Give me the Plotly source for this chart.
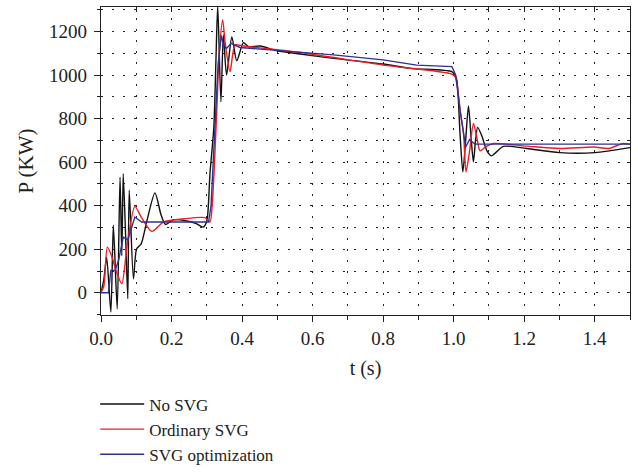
import plotly.graph_objects as go

# ---- data ----
t_no = [0, 0.008, 0.016, 0.028, 0.035, 0.046, 0.054, 0.059, 0.063, 0.07, 0.076, 0.08, 0.092, 0.101,
        0.114, 0.13, 0.153, 0.17, 0.183, 0.205, 0.243, 0.27, 0.29, 0.3, 0.309, 0.32, 0.326, 0.331,
        0.34, 0.347, 0.356, 0.371, 0.385, 0.404, 0.418, 0.451, 0.5, 0.565, 0.659, 0.8, 0.877, 0.995,
        1.003, 1.009, 1.018, 1.026, 1.034, 1.042, 1.05, 1.056, 1.062, 1.068, 1.08, 1.095, 1.108,
        1.12, 1.141, 1.207, 1.3, 1.4, 1.5]
p_no = [0, 60, 164, -89, 310, -74, 532, 170, 547, 250, -27, 471, 64, 202,
        225, 330, 459, 360, 314, 335, 330, 318, 302, 330, 548, 762, 1074, 1320,
        878, 1185, 1000, 1175, 1066, 1149, 1131, 1134, 1112, 1097, 1077, 1051, 1031, 1016,
        1000, 977, 732, 555, 700, 858, 700, 601, 700, 760, 720, 650, 629,
        645, 673, 663, 644, 644, 667]

t_ord = [0, 0.008, 0.018, 0.03, 0.045, 0.059, 0.075, 0.096, 0.115, 0.144, 0.177, 0.234, 0.295,
         0.309, 0.316, 0.326, 0.336, 0.345, 0.352, 0.366, 0.38, 0.4, 0.45, 0.565, 0.8, 0.995,
         1.005, 1.02, 1.028, 1.035, 1.045, 1.056, 1.065, 1.075, 1.09, 1.113, 1.207, 1.302, 1.397,
         1.44, 1.48, 1.5]
p_ord = [0, 30, 210, 170, 90, 41, 230, 397, 345, 282, 325, 340, 345,
         325, 420, 750, 1120, 1254, 1150, 1016, 1139, 1135, 1125, 1104, 1046, 1005,
         990, 820, 732, 555, 650, 778, 720, 652, 670, 686, 674, 663, 670,
         663, 686, 683]

t_opt = [0, 0.021, 0.028, 0.04, 0.05, 0.063, 0.076, 0.096, 0.115, 0.2, 0.305, 0.312, 0.322, 0.332,
         0.341, 0.347, 0.356, 0.369, 0.394, 0.47, 0.603, 0.659, 0.8, 0.895, 0.995, 1.006, 1.018,
         1.034, 1.045, 1.06, 1.1, 1.3, 1.5]
p_opt = [0, 0, 103, 103, 150, 256, 243, 348, 325, 325, 325, 400, 700, 1050,
         1182, 1140, 1123, 1146, 1127, 1117, 1103, 1093, 1070, 1046, 1039, 1000, 839,
         670, 704, 683, 683, 683, 683]

series_names = ["No SVG", "Ordinary SVG", "SVG optimization"]
series_colors = ["#111111", "#ee1c24", "#2e3192"]

x_ticks = [0.0, 0.2, 0.4, 0.6, 0.8, 1.0, 1.2, 1.4]
x_ticklabels = ["0.0", "0.2", "0.4", "0.6", "0.8", "1.0", "1.2", "1.4"]
y_ticks = [0, 200, 400, 600, 800, 1000, 1200]

FONT = "Liberation Serif"
XR = [0, 1.5]
YR = [-102, 1313]

fig = go.Figure()
for (tt, pp, name, col, shape) in [
        (t_no, p_no, series_names[0], series_colors[0], "spline"),
        (t_ord, p_ord, series_names[1], series_colors[1], "spline"),
        (t_opt, p_opt, series_names[2], series_colors[2], "linear")]:
    fig.add_trace(go.Scatter(x=tt, y=pp, mode="lines", name=name,
                             line=dict(color=col, width=1.4, shape=shape,
                                       smoothing=0.7 if shape == "spline" else None)))

# helper trace with no drawable point so the top / right tick axes exist
fig.add_trace(go.Scatter(x=[None], y=[None], xaxis="x2", yaxis="y2", mode="lines",
                         showlegend=False, hoverinfo="skip"))

grid_style = dict(showgrid=True, gridcolor="#222222", gridwidth=1.4, griddash="2px,9px")

fig.update_layout(
    width=638, height=472,
    margin=dict(l=101, r=8, t=7, b=157, autoexpand=False),
    paper_bgcolor="white", plot_bgcolor="white",
    font=dict(family=FONT, size=19, color="#222222"),
    showlegend=True,
    legend=dict(x=-0.011, y=-0.232, xanchor="left", yanchor="top", itemwidth=44,
                font=dict(family=FONT, size=17, color="#222222"),
                bgcolor="rgba(0,0,0,0)", tracegroupgap=0),
    xaxis=dict(range=XR, tickvals=x_ticks, ticktext=x_ticklabels, automargin=False,
               ticks="outside", ticklen=6, tickcolor="#222", tickwidth=1.2,
               mirror=True,
               showline=True, linecolor="#222", linewidth=1.4, zeroline=False,
               title=dict(text="t (s)", standoff=12, font=dict(size=20)),
               minor=dict(dtick=0.1, tick0=0, ticks="outside", ticklen=4,
                          tickcolor="#222", **grid_style),
               **grid_style),
    yaxis=dict(range=YR, tickvals=y_ticks, automargin=False,
               ticks="outside", ticklen=6, tickcolor="#222", tickwidth=1.2,
               ticklabelstandoff=3, mirror=True,
               showline=True, linecolor="#222", linewidth=1.4, zeroline=False,
               title=dict(text="P (KW)", standoff=9, font=dict(size=21)),
               minor=dict(dtick=100, tick0=0, ticks="outside", ticklen=3,
                          tickcolor="#222", **grid_style),
               **grid_style),
    xaxis2=dict(overlaying="x", side="top", anchor="y2", range=XR, dtick=0.1, tick0=0,
                automargin=False, ticks="inside", ticklen=5, tickcolor="#222",
                showticklabels=False, showgrid=False, zeroline=False, showline=False),
    yaxis2=dict(overlaying="y", side="right", anchor="x2", range=YR, dtick=100, tick0=0,
                automargin=False, ticks="inside", ticklen=3, tickcolor="#222",
                showticklabels=False, showgrid=False, zeroline=False, showline=False),
)

fig.write_html("out.html", config={"displayModeBar": False},
               post_script="document.body.style.margin='0px';")
